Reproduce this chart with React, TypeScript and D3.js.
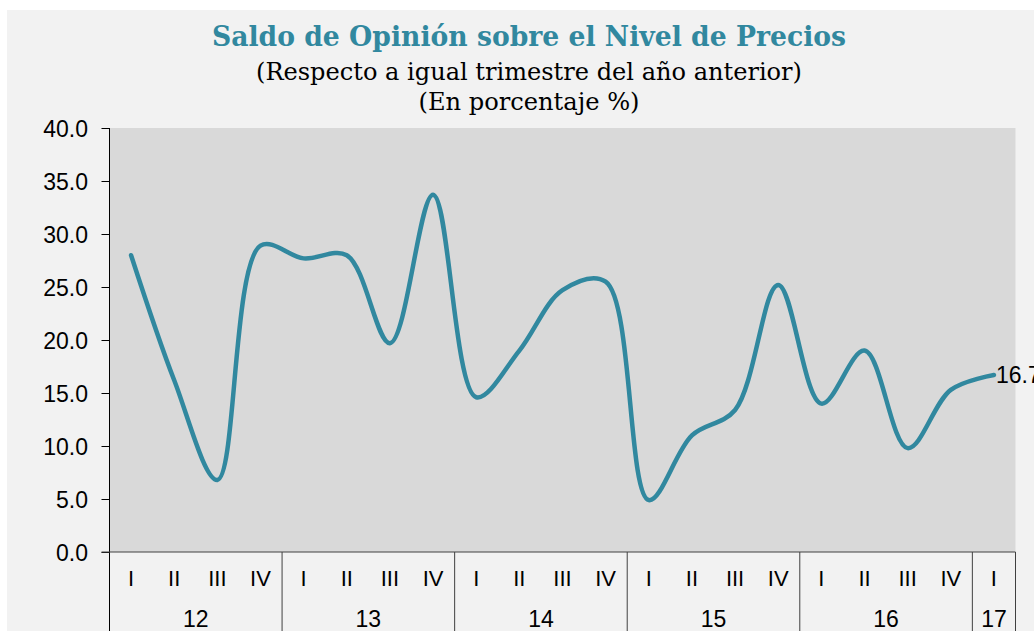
import React, { useEffect, useRef } from "react";
import * as d3 from "d3";

const years = ["12", "13", "14", "15", "16", "17"];
const quarters = ["I", "II", "III", "IV"];
const yearQuarterCount = [4, 4, 4, 4, 4, 1];
const values = [
  28.0, 16.2, 6.8, 28.9,
  27.7, 28.0, 19.7, 33.7,
  14.6, 19.0, 24.7, 25.5,
  4.9, 11.0, 13.4, 25.2,
  14.0, 19.0, 9.8, 15.3,
  16.7,
];
const yTicks = [0, 5, 10, 15, 20, 25, 30, 35, 40];

const App = () => {
  const ref = useRef<SVGSVGElement>(null);

  useEffect(() => {
    const width = 1034;
    const height = 631;
    const left = 109.5;
    const right = 1015.5;
    const top = 128;
    const bottom = 552;
    const labelFont = "23px 'Liberation Sans', Arial, sans-serif";

    const labels: string[] = [];
    yearQuarterCount.forEach(n => {
      for (let q = 0; q < n; q++) labels.push(quarters[q]);
    });
    const idx = labels.map((_, i) => i);

    const x = d3.scaleBand<number>().domain(idx).range([left, right]);
    const y = d3.scaleLinear().domain([0, 40]).range([bottom, top]);

    const svg = d3.select(ref.current);
    svg.selectAll("*").remove();

    svg.append("rect").attr("x", 0).attr("y", 0).attr("width", width).attr("height", height).attr("fill", "#fff");
    svg.append("rect").attr("x", 7).attr("y", 10).attr("width", width - 7).attr("height", height - 10).attr("fill", "#f2f2f2");
    svg.append("rect").attr("x", left).attr("y", top).attr("width", right - left).attr("height", bottom - top).attr("fill", "#d9d9d9");

    // titles
    const cx = 529;
    svg.append("text").attr("x", cx).attr("y", 46).attr("text-anchor", "middle")
      .style("font", "bold 28px 'DejaVu Serif', serif").attr("fill", "#31889f")
      .attr("textLength", 634).attr("lengthAdjust", "spacingAndGlyphs")
      .text("Saldo de Opinión sobre el Nivel de Precios");
    svg.append("text").attr("x", cx).attr("y", 80).attr("text-anchor", "middle")
      .style("font", "24px 'DejaVu Serif', serif").attr("fill", "#000")
      .attr("textLength", 546).attr("lengthAdjust", "spacingAndGlyphs")
      .text("(Respecto a igual trimestre del año anterior)");
    svg.append("text").attr("x", cx).attr("y", 110).attr("text-anchor", "middle")
      .style("font", "24px 'DejaVu Serif', serif").attr("fill", "#000")
      .attr("textLength", 221).attr("lengthAdjust", "spacingAndGlyphs")
      .text("(En porcentaje %)");

    // y axis
    const yAxis = svg.append("g").attr("transform", `translate(${left},0)`)
      .call(d3.axisLeft(y).tickValues(yTicks).tickSize(8).tickPadding(13.5).tickFormat(d3.format(".1f")));
    yAxis.select(".domain").remove();
    yAxis.selectAll(".tick line").attr("stroke", "#000");
    yAxis.selectAll(".tick text").style("font", labelFont).attr("fill", "#000").attr("dy", "0.36em");
    svg.append("line").attr("x1", left).attr("x2", left).attr("y1", top).attr("y2", height).attr("stroke", "#000");
    svg.append("line").attr("x1", left - 8).attr("x2", right).attr("y1", bottom).attr("y2", bottom).attr("stroke", "#404040");

    // x categories
    svg.append("g").selectAll("text").data(idx).join("text")
      .attr("x", d => x(d)! + x.bandwidth() / 2).attr("y", 586).attr("text-anchor", "middle")
      .style("font", "22px 'Liberation Sans', Arial, sans-serif").attr("fill", "#000")
      .text(d => labels[d]);

    let start = 0;
    const groups = years.map((yr, i) => {
      const g = { yr, s: start, e: start + yearQuarterCount[i] - 1 };
      start += yearQuarterCount[i];
      return g;
    });
    svg.append("g").selectAll("line").data(groups).join("line")
      .attr("x1", d => x(d.e)! + x.bandwidth()).attr("x2", d => x(d.e)! + x.bandwidth())
      .attr("y1", bottom).attr("y2", height).attr("stroke", "#404040");
    svg.append("g").selectAll("text").data(groups).join("text")
      .attr("x", d => (x(d.s)! + x(d.e)! + x.bandwidth()) / 2).attr("y", 627).attr("text-anchor", "middle")
      .style("font", labelFont).attr("fill", "#000")
      .text(d => d.yr);

    // line
    const line = d3.line<number>()
      .x((_, i) => x(i)! + x.bandwidth() / 2)
      .y(d => y(d))
      .curve(d3.curveCatmullRom.alpha(0.5));
    svg.append("path").datum(values).attr("d", line).attr("fill", "none")
      .attr("stroke", "#31889f").attr("stroke-width", 4.5).attr("stroke-linecap", "round");

    const last = values.length - 1;
    svg.append("text").attr("x", x(last)! + x.bandwidth() / 2 + 2).attr("y", y(values[last]) + 8)
      .style("font", labelFont).attr("fill", "#000")
      .text(values[last].toFixed(1));
  }, []);

  return <svg ref={ref} width={1034} height={631} style={{ position: "absolute", left: 0, top: 0 }} />;
};

export default App;
